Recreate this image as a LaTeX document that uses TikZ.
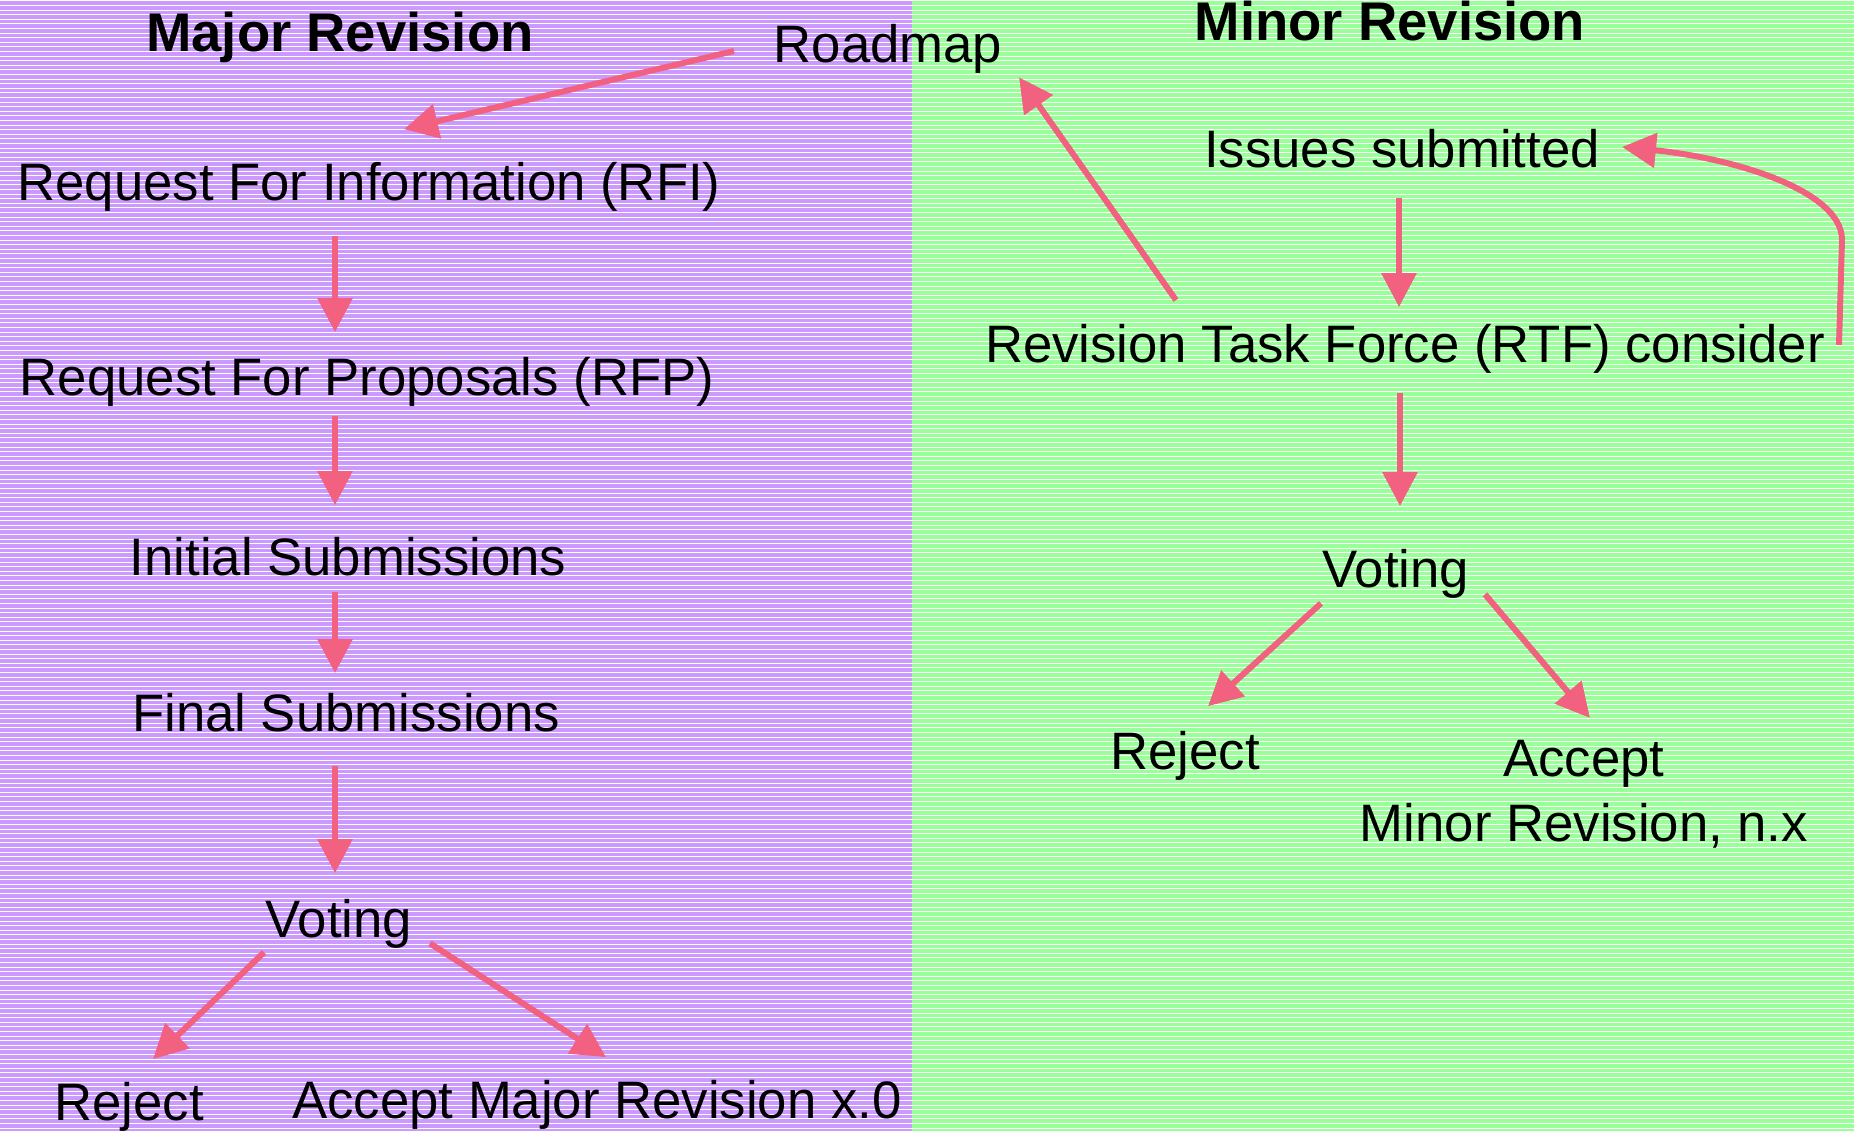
\documentclass[tikz,border=0pt]{standalone}
\usepackage{fontspec}
\setmainfont{Liberation Sans}
\usetikzlibrary{arrows.meta,calc}
\definecolor{majorbg}{RGB}{204,153,255}
\definecolor{minorbg}{RGB}{153,255,153}
\definecolor{arrowpink}{RGB}{242,98,128}

\begin{document}
\begin{tikzpicture}[x=0.02cm, y=-0.02cm,
    txt/.style={inner sep=0pt, anchor=base, text height=0.75cm, text depth=0.22cm, font=\fontsize{30}{37}\selectfont},
    title/.style={txt, font=\fontsize{31}{37}\selectfont\bfseries},
    arr/.style={arrowpink, line width=0.12cm, -{Triangle[length=0.68cm, width=0.68cm]}}]
    \useasboundingbox (0,0) rectangle (1854,1131);
    % striped panels
    \fill[majorbg] (0,0) rectangle (912,1131);
    \fill[minorbg] (912,0) rectangle (1854,1131);
    \foreach \i in {0,...,245}
        \draw[white, line width=0.02cm] (0,1+\i*4.6) -- (1854,1+\i*4.6);

    % major revision
    \node[title] (major) at (340,52) {Major Revision};
    \node[txt] (roadmap) at (888,63) {Roadmap};
    \node[txt] (rfi) at (369,201) {Request For Information (RFI)};
    \node[txt] (rfp) at (367,396) {Request For Proposals (RFP)};
    \node[txt] (init) at (348,576) {Initial Submissions};
    \node[txt] (final) at (346,732) {Final Submissions};
    \node[txt] (votL) at (339,937) {Voting};
    \node[txt] (rejL) at (129,1120) {Reject};
    \node[txt] (accL) at (597,1118) {Accept Major Revision x.0};

    % minor revision
    \node[title] (minor) at (1390,41) {Minor Revision};
    \node[txt] (issues) at (1402,168) {Issues submitted};
    \node[txt] (rtf) at (1405,363) {Revision Task Force (RTF) consider};
    \node[txt] (votR) at (1396,588) {Voting};
    \node[txt] (rejR) at (1185,770) {Reject};
    \node[inner sep=0pt, anchor=north, align=center, font=\fontsize{30}{37}\selectfont] (accR) at (1584,740) {Accept\\Minor Revision, n.x};

    \draw[arr] ($(roadmap.base)+(-154,-12)$) -- ($(rfi.north)+(35,-34)$);
    \draw[arr] ($(rfi.south)+(-34,24)$) -- ($(rfp.north)+(-32,-26)$);
    \draw[arr] ($(rfp.south)+(-32,9)$) -- ($(init.north)+(-13,-33)$);
    \draw[arr] ($(init.south)+(-13,5)$) -- ($(final.north)+(-11,-21)$);
    \draw[arr] ($(final.south)+(-11,23)$) -- ($(votL.north)+(-4,-26)$);
    \draw[arr] ($(votL.south)+(-75,4)$) -- ($(rejL.north)+(24,-23)$);
    \draw[arr] ($(votL.south)+(91,-5)$) -- ($(accL.north)+(9,-23)$);

    \draw[arr] ($(rtf.north)+(-229,-25)$) -- ($(roadmap.south)+(131,3)$);
    \draw[arr] ($(issues.south)+(-3,19)$) -- ($(rtf.north)+(-6,-18)$);
    \draw[arr] ($(rtf.base)+(434,-18)$) -- ++(3,-105)
        .. controls +(0,-50) and +(110,11) .. ($(issues.base)+(220,-21)$);
    \draw[arr] ($(rtf.south)+(-5,19)$) -- ($(votR.north)+(4,-44)$);
    \draw[arr] ($(votR.south)+(-75,4)$) -- ($(rejR.north)+(23,-26)$);
    \draw[arr] ($(votR.south)+(89,-5)$) -- ($(accR.north)+(6,-22)$);
\end{tikzpicture}
\end{document}
